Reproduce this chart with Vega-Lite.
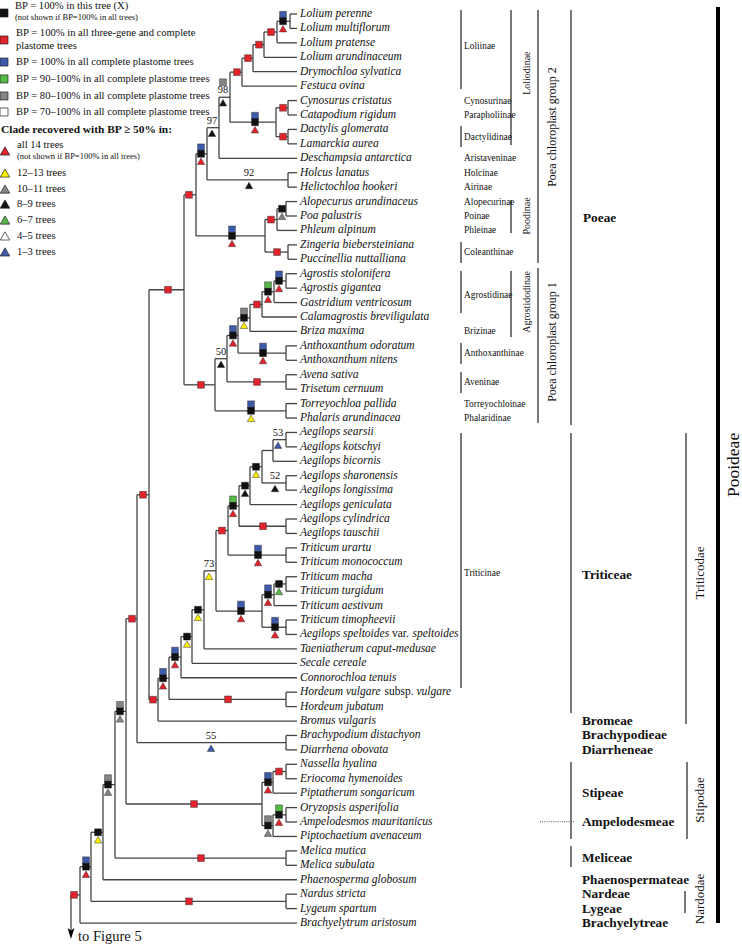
{
"$schema": "https://vega.github.io/schema/vega-lite/v6.json",
"width": 742, "height": 948, "padding": 0, "autosize": "none", "background": "white",
"config": {"view": {"stroke": null}, "text": {"font": "Liberation Serif"}},
"datasets": {
"hs": [
{"x":277,"x2":290,"y":1.5},{"x":264,"x2":277,"y":2.25},{"x":253,"x2":264,"y":3.125},{"x":242,"x2":253,"y":4.06},{"x":230,"x2":242,"y":5.03},{"x":276,"x2":288,"y":7.5},{"x":276,"x2":288,"y":9.5},{"x":230,"x2":276,"y":8.5},{"x":219,"x2":230,"y":6.77},{"x":207,"x2":219,"y":8.88},{"x":207,"x2":288,"y":12.5},{"x":196,"x2":207,"y":10.69},{"x":277,"x2":286,"y":14.5},{"x":265,"x2":277,"y":15.25},{"x":265,"x2":288,"y":17.5},{"x":196,"x2":265,"y":16.38},{"x":184,"x2":196,"y":13.53},{"x":274,"x2":286,"y":19.5},{"x":262,"x2":274,"y":20.25},{"x":250,"x2":262,"y":21.13},{"x":238,"x2":250,"y":22.06},{"x":238,"x2":286,"y":24.5},{"x":227,"x2":238,"y":23.28},{"x":227,"x2":286,"y":26.5},{"x":215,"x2":227,"y":24.89},{"x":215,"x2":286,"y":28.5},{"x":184,"x2":215,"y":26.7},{"x":149,"x2":184,"y":20.11},{"x":273,"x2":286,"y":30.5},{"x":262,"x2":273,"y":31.25},{"x":262,"x2":286,"y":33.5},{"x":250,"x2":262,"y":32.38},{"x":239,"x2":250,"y":33.69},{"x":239,"x2":286,"y":36.5},{"x":228,"x2":239,"y":35.09},{"x":228,"x2":286,"y":38.5},{"x":216,"x2":228,"y":36.8},{"x":274,"x2":286,"y":40.5},{"x":262,"x2":274,"y":41.25},{"x":262,"x2":286,"y":43.5},{"x":216,"x2":262,"y":42.38},{"x":204,"x2":216,"y":39.59},{"x":192,"x2":204,"y":42.29},{"x":181,"x2":192,"y":44.15},{"x":169,"x2":181,"y":45.57},{"x":169,"x2":286,"y":48.5},{"x":158,"x2":169,"y":47.04},{"x":149,"x2":158,"y":48.52},{"x":137,"x2":149,"y":34.32},{"x":137,"x2":286,"y":51.5},{"x":126,"x2":137,"y":42.91},{"x":273,"x2":286,"y":53.5},{"x":262,"x2":273,"y":54.25},{"x":273,"x2":286,"y":56.5},{"x":262,"x2":273,"y":57.25},{"x":126,"x2":262,"y":55.75},{"x":115,"x2":126,"y":49.33},{"x":115,"x2":286,"y":59.5},{"x":103,"x2":115,"y":54.41},{"x":91,"x2":103,"y":57.71},{"x":91,"x2":286,"y":62.5},{"x":80,"x2":91,"y":60.1},{"x":71,"x2":80,"y":62.05}
],
"vs": [
{"x":290,"y":1,"y2":2},{"x":277,"y":1.5,"y2":3},{"x":264,"y":2.25,"y2":4},{"x":253,"y":3.125,"y2":5},{"x":242,"y":4.06,"y2":6},{"x":288,"y":7,"y2":8},{"x":288,"y":9,"y2":10},{"x":276,"y":7.5,"y2":9.5},{"x":230,"y":5.03,"y2":8.5},{"x":219,"y":6.77,"y2":11},{"x":288,"y":12,"y2":13},{"x":207,"y":8.88,"y2":12.5},{"x":286,"y":14,"y2":15},{"x":277,"y":14.5,"y2":16},{"x":288,"y":17,"y2":18},{"x":265,"y":15.25,"y2":17.5},{"x":196,"y":10.69,"y2":16.38},{"x":286,"y":19,"y2":20},{"x":274,"y":19.5,"y2":21},{"x":262,"y":20.25,"y2":22},{"x":250,"y":21.13,"y2":23},{"x":286,"y":24,"y2":25},{"x":238,"y":22.06,"y2":24.5},{"x":286,"y":26,"y2":27},{"x":227,"y":23.28,"y2":26.5},{"x":286,"y":28,"y2":29},{"x":215,"y":24.89,"y2":28.5},{"x":184,"y":13.53,"y2":26.7},{"x":286,"y":30,"y2":31},{"x":273,"y":30.5,"y2":32},{"x":286,"y":33,"y2":34},{"x":262,"y":31.25,"y2":33.5},{"x":250,"y":32.38,"y2":35},{"x":286,"y":36,"y2":37},{"x":239,"y":33.69,"y2":36.5},{"x":286,"y":38,"y2":39},{"x":228,"y":35.09,"y2":38.5},{"x":286,"y":40,"y2":41},{"x":274,"y":40.5,"y2":42},{"x":286,"y":43,"y2":44},{"x":262,"y":41.25,"y2":43.5},{"x":216,"y":36.8,"y2":42.38},{"x":204,"y":39.59,"y2":45},{"x":192,"y":42.29,"y2":46},{"x":181,"y":44.15,"y2":47},{"x":286,"y":48,"y2":49},{"x":169,"y":45.57,"y2":48.5},{"x":158,"y":47.04,"y2":50},{"x":149,"y":20.11,"y2":48.52},{"x":286,"y":51,"y2":52},{"x":137,"y":34.32,"y2":51.5},{"x":286,"y":53,"y2":54},{"x":273,"y":53.5,"y2":55},{"x":286,"y":56,"y2":57},{"x":273,"y":56.5,"y2":58},{"x":262,"y":54.25,"y2":57.25},{"x":126,"y":42.91,"y2":55.75},{"x":286,"y":59,"y2":60},{"x":115,"y":49.33,"y2":59.5},{"x":103,"y":54.41,"y2":61},{"x":286,"y":62,"y2":63},{"x":91,"y":57.71,"y2":62.5},{"x":80,"y":60.1,"y2":64},{"x":71,"y":62.05,"y2":64.7}
],
"lv": [
{"y":1,"x":297,"px":290,"t":"Lolium perenne"},{"y":2,"x":297,"px":290,"t":"Lolium multiflorum"},{"y":3,"x":297,"px":277,"t":"Lolium pratense"},{"y":4,"x":297,"px":264,"t":"Lolium arundinaceum"},{"y":5,"x":297,"px":253,"t":"Drymochloa sylvatica"},{"y":6,"x":297,"px":242,"t":"Festuca ovina"},{"y":7,"x":297,"px":288,"t":"Cynosurus cristatus"},{"y":8,"x":297,"px":288,"t":"Catapodium rigidum"},{"y":9,"x":297,"px":288,"t":"Dactylis glomerata"},{"y":10,"x":297,"px":288,"t":"Lamarckia aurea"},{"y":11,"x":297,"px":219,"t":"Deschampsia antarctica"},{"y":12,"x":297,"px":288,"t":"Holcus lanatus"},{"y":13,"x":297,"px":288,"t":"Helictochloa hookeri"},{"y":14,"x":297,"px":286,"t":"Alopecurus arundinaceus"},{"y":15,"x":297,"px":286,"t":"Poa palustris"},{"y":16,"x":297,"px":277,"t":"Phleum alpinum"},{"y":17,"x":297,"px":288,"t":"Zingeria biebersteiniana"},{"y":18,"x":297,"px":288,"t":"Puccinellia nuttalliana"},{"y":19,"x":297,"px":286,"t":"Agrostis stolonifera"},{"y":20,"x":297,"px":286,"t":"Agrostis gigantea"},{"y":21,"x":297,"px":274,"t":"Gastridium ventricosum"},{"y":22,"x":297,"px":262,"t":"Calamagrostis breviligulata"},{"y":23,"x":297,"px":250,"t":"Briza maxima"},{"y":24,"x":297,"px":286,"t":"Anthoxanthum odoratum"},{"y":25,"x":297,"px":286,"t":"Anthoxanthum nitens"},{"y":26,"x":297,"px":286,"t":"Avena sativa"},{"y":27,"x":297,"px":286,"t":"Trisetum cernuum"},{"y":28,"x":297,"px":286,"t":"Torreyochloa pallida"},{"y":29,"x":297,"px":286,"t":"Phalaris arundinacea"},{"y":30,"x":297,"px":286,"t":"Aegilops searsii"},{"y":31,"x":297,"px":286,"t":"Aegilops kotschyi"},{"y":32,"x":297,"px":273,"t":"Aegilops bicornis"},{"y":33,"x":297,"px":286,"t":"Aegilops sharonensis"},{"y":34,"x":297,"px":286,"t":"Aegilops longissima"},{"y":35,"x":297,"px":250,"t":"Aegilops geniculata"},{"y":36,"x":297,"px":286,"t":"Aegilops cylindrica"},{"y":37,"x":297,"px":286,"t":"Aegilops tauschii"},{"y":38,"x":297,"px":286,"t":"Triticum urartu"},{"y":39,"x":297,"px":286,"t":"Triticum monococcum"},{"y":40,"x":297,"px":286,"t":"Triticum macha"},{"y":41,"x":297,"px":286,"t":"Triticum turgidum"},{"y":42,"x":297,"px":274,"t":"Triticum aestivum"},{"y":43,"x":297,"px":286,"t":"Triticum timopheevii"},{"y":44,"x":297,"px":286,"t":"Aegilops speltoides"},{"y":45,"x":297,"px":204,"t":"Taeniatherum caput-medusae"},{"y":46,"x":297,"px":192,"t":"Secale cereale"},{"y":47,"x":297,"px":181,"t":"Connorochloa tenuis"},{"y":48,"x":297,"px":286,"t":"Hordeum vulgare"},{"y":49,"x":297,"px":286,"t":"Hordeum jubatum"},{"y":50,"x":297,"px":158,"t":"Bromus vulgaris"},{"y":51,"x":297,"px":286,"t":"Brachypodium distachyon"},{"y":52,"x":297,"px":286,"t":"Diarrhena obovata"},{"y":53,"x":297,"px":286,"t":"Nassella hyalina"},{"y":54,"x":297,"px":286,"t":"Eriocoma hymenoides"},{"y":55,"x":297,"px":273,"t":"Piptatherum songaricum"},{"y":56,"x":297,"px":286,"t":"Oryzopsis asperifolia"},{"y":57,"x":297,"px":286,"t":"Ampelodesmos mauritanicus"},{"y":58,"x":297,"px":273,"t":"Piptochaetium avenaceum"},{"y":59,"x":297,"px":286,"t":"Melica mutica"},{"y":60,"x":297,"px":286,"t":"Melica subulata"},{"y":61,"x":297,"px":103,"t":"Phaenosperma globosum"},{"y":62,"x":297,"px":286,"t":"Nardus stricta"},{"y":63,"x":297,"px":286,"t":"Lygeum spartum"},{"y":64,"x":297,"px":80,"t":"Brachyelytrum aristosum"}
],
"lvx": [
{"x":384.5,"y":48,"t":"subsp.","f":"n"},{"x":416.5,"y":48,"t":"vulgare","f":"i"},{"x":392,"y":44,"t":"var.","f":"n"},{"x":412.5,"y":44,"t":"speltoides","f":"i"}
],
"mk": [
{"x":283,"y":1.5,"top":"blue","X":true,"tri":"red"},{"x":271,"y":2.25,"top":"red"},{"x":259,"y":3.125,"top":"red"},{"x":248,"y":4.06,"top":"red"},{"x":237,"y":5.03,"top":"red"},{"x":223,"y":6.77,"top":"gray","tri":"black","bs":"98"},{"x":283,"y":7.5,"top":"red"},{"x":283,"y":9.5,"top":"red"},{"x":255,"y":8.5,"top":"blue","X":true,"tri":"red"},{"x":212,"y":8.88,"tri":"black","bs":"97"},{"x":249,"y":12.5,"tri":"black","bs":"92"},{"x":201,"y":10.69,"top":"blue","X":true,"tri":"red"},{"x":282,"y":14.5,"X":true,"tri":"gray"},{"x":271,"y":15.25,"top":"red"},{"x":277,"y":17.5,"top":"red"},{"x":232,"y":16.38,"top":"blue","X":true,"tri":"red"},{"x":189,"y":13.53,"top":"red"},{"x":279,"y":19.5,"top":"blue","X":true,"tri":"red"},{"x":268,"y":20.25,"top":"green","X":true,"tri":"red"},{"x":257,"y":21.13,"top":"red"},{"x":244,"y":22.06,"top":"gray","X":true,"tri":"yellow"},{"x":263,"y":24.5,"top":"blue","X":true,"tri":"red"},{"x":233,"y":23.28,"top":"blue","X":true,"tri":"red"},{"x":257,"y":26.5,"top":"red"},{"x":221,"y":24.89,"tri":"black","bs":"50"},{"x":251,"y":28.5,"top":"blue","X":true,"tri":"yellow"},{"x":201,"y":26.7,"top":"red"},{"x":168,"y":20.11,"top":"red"},{"x":278,"y":30.5,"tri":"blue","bs":"53"},{"x":275,"y":33.5,"tri":"black","bs":"52"},{"x":256,"y":32.38,"X":true,"tri":"yellow"},{"x":245,"y":33.69,"X":true,"tri":"black"},{"x":263,"y":36.5,"top":"red"},{"x":233,"y":35.09,"top":"green","X":true,"tri":"red"},{"x":258,"y":38.5,"top":"blue","X":true,"tri":"red"},{"x":222,"y":36.8,"top":"red"},{"x":279,"y":40.5,"X":true,"tri":"green"},{"x":268,"y":41.25,"top":"blue","X":true,"tri":"red"},{"x":275,"y":43.5,"top":"blue","X":true,"tri":"red"},{"x":241,"y":42.38,"top":"blue","X":true,"tri":"red"},{"x":209,"y":39.59,"tri":"yellow","bs":"73"},{"x":198,"y":42.29,"X":true,"tri":"yellow"},{"x":187,"y":44.15,"X":true,"tri":"yellow"},{"x":175,"y":45.57,"top":"blue","X":true,"tri":"red"},{"x":228,"y":48.5,"top":"red"},{"x":163,"y":47.04,"top":"blue","X":true,"tri":"red"},{"x":153,"y":48.52,"top":"red"},{"x":143,"y":34.32,"top":"red"},{"x":211,"y":51.5,"tri":"blue","bs":"55"},{"x":132,"y":42.91,"top":"red"},{"x":279,"y":53.5,"top":"red"},{"x":268,"y":54.25,"top":"blue","X":true,"tri":"red"},{"x":279,"y":56.5,"top":"green","X":true,"tri":"red"},{"x":268,"y":57.25,"top":"gray","X":true,"tri":"gray"},{"x":194,"y":55.75,"top":"red"},{"x":120,"y":49.33,"top":"gray","X":true,"tri":"gray"},{"x":201,"y":59.5,"top":"red"},{"x":108,"y":54.41,"top":"gray","X":true,"tri":"gray"},{"x":98,"y":57.71,"X":true,"tri":"yellow"},{"x":86,"y":60.1,"top":"blue","X":true,"tri":"red"},{"x":189,"y":62.5,"top":"red"},{"x":74,"y":62.05,"top":"red"}
],
"lm": [
{"x":4,"y":0.93,"c":"black","s":"sq"},{"x":4,"y":2.8,"c":"red","s":"sq"},{"x":4,"y":4.33,"c":"blue","s":"sq"},{"x":4,"y":5.5,"c":"green","s":"sq"},{"x":4,"y":6.68,"c":"gray","s":"sq"},{"x":4,"y":7.79,"c":"white","s":"sq"},
{"x":5,"y":10.49,"c":"red","s":"tri"},{"x":5,"y":12.02,"c":"yellow","s":"tri"},{"x":5,"y":13.13,"c":"gray","s":"tri"},{"x":5,"y":14.17,"c":"black","s":"tri"},{"x":5,"y":15.28,"c":"green","s":"tri"},{"x":5,"y":16.38,"c":"white","s":"tri"},{"x":5,"y":17.49,"c":"blue","s":"tri"}
],
"txt": [
{"x":15,"y":0.45,"t":"BP = 100% in this tree (X)","c":"leg"},
{"x":15,"y":1.2,"t":"(not shown if BP=100% in all trees)","c":"legs"},
{"x":16,"y":2.32,"t":"BP = 100% in all three-gene and complete","c":"leg"},
{"x":16,"y":3.22,"t":"plastome trees","c":"leg"},
{"x":16,"y":4.33,"t":"BP = 100% in all complete plastome trees","c":"leg"},
{"x":16,"y":5.5,"t":"BP = 90–100% in all complete plastome trees","c":"leg"},
{"x":16,"y":6.68,"t":"BP = 80–100% in all complete plastome trees","c":"leg"},
{"x":16,"y":7.79,"t":"BP = 70–100% in all complete plastome trees","c":"leg"},
{"x":1,"y":9.04,"t":"Clade recovered with BP ≥ 50% in:","c":"legb"},
{"x":17,"y":10.08,"t":"all 14 trees","c":"leg"},
{"x":17,"y":10.84,"t":"(not shown if BP=100% in all trees)","c":"legs"},
{"x":17,"y":12.02,"t":"12–13 trees","c":"leg"},
{"x":17,"y":13.13,"t":"10–11 trees","c":"leg"},
{"x":17,"y":14.17,"t":"8–9 trees","c":"leg"},
{"x":17,"y":15.28,"t":"6–7 trees","c":"leg"},
{"x":17,"y":16.38,"t":"4–5 trees","c":"leg"},
{"x":17,"y":17.49,"t":"1–3 trees","c":"leg"},
{"x":464,"y":3.2,"t":"Loliinae","c":"sub"},
{"x":464,"y":7,"t":"Cynosurinae","c":"sub"},
{"x":464,"y":8,"t":"Parapholiinae","c":"sub"},
{"x":464,"y":9.5,"t":"Dactylidinae","c":"sub"},
{"x":464,"y":11,"t":"Aristaveninae","c":"sub"},
{"x":464,"y":12,"t":"Holcinae","c":"sub"},
{"x":464,"y":13,"t":"Airinae","c":"sub"},
{"x":464,"y":14,"t":"Alopecurinae","c":"sub"},
{"x":464,"y":15,"t":"Poinae","c":"sub"},
{"x":464,"y":16,"t":"Phleinae","c":"sub"},
{"x":464,"y":17.5,"t":"Coleanthinae","c":"sub"},
{"x":464,"y":20.47,"t":"Agrostidinae","c":"sub"},
{"x":464,"y":23,"t":"Brizinae","c":"sub"},
{"x":464,"y":24.5,"t":"Anthoxanthinae","c":"sub"},
{"x":464,"y":26.5,"t":"Aveninae","c":"sub"},
{"x":464,"y":28,"t":"Torreyochloinae","c":"sub"},
{"x":464,"y":29,"t":"Phalaridinae","c":"sub"},
{"x":464,"y":39.74,"t":"Triticinae","c":"sub"},
{"x":583,"y":15.14,"t":"Poeae","c":"trib"},
{"x":582,"y":39.88,"t":"Triticeae","c":"trib"},
{"x":582,"y":50,"t":"Bromeae","c":"trib"},
{"x":582,"y":51,"t":"Brachypodieae","c":"trib"},
{"x":582,"y":52,"t":"Diarrheneae","c":"trib"},
{"x":582,"y":54.99,"t":"Stipeae","c":"trib"},
{"x":582,"y":57,"t":"Ampelodesmeae","c":"trib"},
{"x":582,"y":59.5,"t":"Meliceae","c":"trib"},
{"x":582,"y":61,"t":"Phaenospermateae","c":"trib"},
{"x":582,"y":62,"t":"Nardeae","c":"trib"},
{"x":582,"y":63,"t":"Lygeae","c":"trib"},
{"x":582,"y":64,"t":"Brachyelytreae","c":"trib"},
{"x":527,"y":5.1,"t":"Loliodinae","c":"rotS"},
{"x":527,"y":15.0,"t":"Poodinae","c":"rotS"},
{"x":527,"y":20.96,"t":"Agrostidodinae","c":"rotS"},
{"x":552,"y":8.83,"t":"Poea chloroplast group 2","c":"rotM"},
{"x":552,"y":23.73,"t":"Poea chloroplast group 1","c":"rotM"},
{"x":700,"y":39.74,"t":"Triticodae","c":"rotL"},
{"x":700,"y":55.47,"t":"Stipodae","c":"rotL"},
{"x":700,"y":62.33,"t":"Nardodae","c":"rotL"},
{"x":734,"y":32.25,"t":"Pooideae","c":"rotXL"},
{"x":78,"y":65.0,"t":"to Figure 5","c":"fig"}
],
"br": [
{"x":461,"y":0.72,"y2":6.2},{"x":461,"y":8.76,"y2":10.22},{"x":461,"y":16.8,"y2":18.26},{"x":461,"y":18.81,"y2":21.72},{"x":461,"y":23.8,"y2":25.26},{"x":461,"y":25.81,"y2":27.26},{"x":461,"y":30.04,"y2":47.71},
{"x":511,"y":0.72,"y2":10.08},{"x":511,"y":13.89,"y2":16.18},{"x":511,"y":18.81,"y2":23.38},
{"x":538,"y":0.72,"y2":18.26},{"x":538,"y":18.6,"y2":29.34},
{"x":571,"y":0.72,"y2":29.48},{"x":571,"y":30.04,"y2":49.44},{"x":571,"y":52.84,"y2":58.17},{"x":571,"y":58.66,"y2":60.11},
{"x":686,"y":30.04,"y2":50.2},{"x":687,"y":52.84,"y2":58.17},{"x":685,"y":61.78,"y2":63.3}
],
"pooid": [{"x":718,"y":0.51,"y2":64.0}],
"dots": [{"x":540,"x2":575,"y":56.98}],
"arrow": [{"x":71,"y":64.72}]
},
"encoding": {
"x": {"field": "x", "type": "quantitative", "scale": {"domain": [0, 742], "nice": false, "zero": false}, "axis": null},
"y": {"field": "y", "type": "quantitative", "scale": {"domain": [0.03, 65.73], "nice": false, "zero": false, "reverse": true}, "axis": null}
},
"layer": [
{"data": {"name": "hs"}, "mark": {"type": "rule", "color": "#444", "strokeWidth": 1.3}, "encoding": {"x2": {"field": "x2"}}},
{"data": {"name": "vs"}, "mark": {"type": "rule", "color": "#444", "strokeWidth": 1.3}, "encoding": {"y2": {"field": "y2"}}},
{"data": {"name": "lv"}, "mark": {"type": "rule", "color": "#444", "strokeWidth": 1.3}, "encoding": {"x": {"field": "px", "type": "quantitative"}, "x2": {"field": "x"}}},
{"data": {"name": "br"}, "mark": {"type": "rule", "color": "#6a6a6a", "strokeWidth": 1.8}, "encoding": {"y2": {"field": "y2"}}},
{"data": {"name": "pooid"}, "mark": {"type": "rule", "color": "#000", "strokeWidth": 4}, "encoding": {"y2": {"field": "y2"}}},
{"data": {"name": "dots"}, "mark": {"type": "rule", "color": "#555", "strokeWidth": 1, "strokeDash": [1, 1.2]}, "encoding": {"x2": {"field": "x2"}}},
{"data": {"name": "arrow"}, "mark": {"type": "point", "shape": "M-0.62,-1L0,1L0.62,-1L0,-0.55Z", "filled": true, "size": 121, "color": "#000", "opacity": 1}, "encoding": {}},
{"data": {"name": "lv"}, "mark": {"type": "text", "font": "Liberation Serif", "align": "left", "baseline": "middle", "dx": 3, "fontSize": 11.5, "fontStyle": "italic", "color": "#111"}, "encoding": {"text": {"field": "t"}}},
{"data": {"name": "lvx"}, "transform": [{"filter": "datum.f == 'i'"}], "mark": {"type": "text", "font": "Liberation Serif", "align": "left", "baseline": "middle", "fontSize": 11.5, "fontStyle": "italic", "color": "#111"}, "encoding": {"text": {"field": "t"}}},
{"data": {"name": "lvx"}, "transform": [{"filter": "datum.f == 'n'"}], "mark": {"type": "text", "font": "Liberation Serif", "align": "left", "baseline": "middle", "fontSize": 11.5, "color": "#111"}, "encoding": {"text": {"field": "t"}}},
{"data": {"name": "mk"}, "transform": [{"filter": "datum.X && datum.top"}], "mark": {"type": "point", "shape": "square", "filled": true, "size": 46, "opacity": 1, "stroke": "#333", "strokeWidth": 0.5, "yOffset": -6.5}, "encoding": {"fill": {"field": "top", "type": "nominal", "scale": {"domain": ["red","blue","green","gray","black","yellow","white"], "range": ["#e3232b","#3e5ba9","#57b947","#858585","#111111","#fff200","#ffffff"]}, "legend": null}}},
{"data": {"name": "mk"}, "transform": [{"filter": "!datum.X && datum.top && !datum.bs"}], "mark": {"type": "point", "shape": "square", "filled": true, "size": 46, "opacity": 1, "stroke": "#333", "strokeWidth": 0.5}, "encoding": {"fill": {"field": "top", "type": "nominal", "legend": null}}},
{"data": {"name": "mk"}, "transform": [{"filter": "!datum.X && datum.top && datum.bs"}], "mark": {"type": "point", "shape": "square", "filled": true, "size": 46, "opacity": 1, "stroke": "#333", "strokeWidth": 0.5, "yOffset": -15}, "encoding": {"fill": {"field": "top", "type": "nominal", "legend": null}}},
{"data": {"name": "mk"}, "transform": [{"filter": "datum.X"}], "mark": {"type": "point", "shape": "square", "filled": true, "size": 46, "opacity": 1, "fill": "#111", "stroke": "#111", "strokeWidth": 0.5}, "encoding": {}},
{"data": {"name": "mk"}, "transform": [{"filter": "datum.X && datum.tri"}], "mark": {"type": "point", "shape": "triangle-up", "filled": true, "size": 56, "opacity": 1, "stroke": "#333", "strokeWidth": 0.5, "yOffset": 7.5}, "encoding": {"fill": {"field": "tri", "type": "nominal", "legend": null}}},
{"data": {"name": "mk"}, "transform": [{"filter": "!datum.X && datum.tri"}], "mark": {"type": "point", "shape": "triangle-up", "filled": true, "size": 56, "opacity": 1, "stroke": "#333", "strokeWidth": 0.5, "yOffset": 5.5}, "encoding": {"fill": {"field": "tri", "type": "nominal", "legend": null}}},
{"data": {"name": "mk"}, "transform": [{"filter": "datum.bs"}], "mark": {"type": "text", "font": "Liberation Serif", "align": "center", "baseline": "middle", "dy": -7, "fontSize": 10.5, "color": "#111"}, "encoding": {"text": {"field": "bs"}}},
{"data": {"name": "lm"}, "transform": [{"filter": "datum.s == 'sq'"}], "mark": {"type": "point", "shape": "square", "filled": true, "size": 64, "opacity": 1, "stroke": "#222", "strokeWidth": 0.7}, "encoding": {"fill": {"field": "c", "type": "nominal", "legend": null}}},
{"data": {"name": "lm"}, "transform": [{"filter": "datum.s == 'tri'"}], "mark": {"type": "point", "shape": "triangle-up", "filled": true, "size": 90, "opacity": 1, "stroke": "#222", "strokeWidth": 0.7}, "encoding": {"fill": {"field": "c", "type": "nominal", "legend": null}}},
{"data": {"name": "txt"}, "transform": [{"filter": "datum.c == 'leg'"}], "mark": {"type": "text", "font": "Liberation Serif", "align": "left", "baseline": "middle", "fontSize": 10.6, "color": "#111"}, "encoding": {"text": {"field": "t"}}},
{"data": {"name": "txt"}, "transform": [{"filter": "datum.c == 'legs'"}], "mark": {"type": "text", "font": "Liberation Serif", "align": "left", "baseline": "middle", "fontSize": 8.5, "color": "#111"}, "encoding": {"text": {"field": "t"}}},
{"data": {"name": "txt"}, "transform": [{"filter": "datum.c == 'legb'"}], "mark": {"type": "text", "font": "Liberation Serif", "align": "left", "baseline": "middle", "fontSize": 11.4, "fontWeight": "bold", "color": "#111"}, "encoding": {"text": {"field": "t"}}},
{"data": {"name": "txt"}, "transform": [{"filter": "datum.c == 'sub'"}], "mark": {"type": "text", "font": "Liberation Serif", "align": "left", "baseline": "middle", "fontSize": 9.4, "color": "#111"}, "encoding": {"text": {"field": "t"}}},
{"data": {"name": "txt"}, "transform": [{"filter": "datum.c == 'trib'"}], "mark": {"type": "text", "font": "Liberation Serif", "align": "left", "baseline": "middle", "fontSize": 13.3, "fontWeight": "bold", "color": "#111"}, "encoding": {"text": {"field": "t"}}},
{"data": {"name": "txt"}, "transform": [{"filter": "datum.c == 'rotS'"}], "mark": {"type": "text", "font": "Liberation Serif", "align": "center", "baseline": "middle", "angle": 270, "fontSize": 10, "color": "#111"}, "encoding": {"text": {"field": "t"}}},
{"data": {"name": "txt"}, "transform": [{"filter": "datum.c == 'rotM'"}], "mark": {"type": "text", "font": "Liberation Serif", "align": "center", "baseline": "middle", "angle": 270, "fontSize": 12, "color": "#111"}, "encoding": {"text": {"field": "t"}}},
{"data": {"name": "txt"}, "transform": [{"filter": "datum.c == 'rotL'"}], "mark": {"type": "text", "font": "Liberation Serif", "align": "center", "baseline": "middle", "angle": 270, "fontSize": 13, "color": "#111"}, "encoding": {"text": {"field": "t"}}},
{"data": {"name": "txt"}, "transform": [{"filter": "datum.c == 'rotXL'"}], "mark": {"type": "text", "font": "Liberation Serif", "align": "center", "baseline": "middle", "angle": 270, "fontSize": 17.5, "color": "#111"}, "encoding": {"text": {"field": "t"}}},
{"data": {"name": "txt"}, "transform": [{"filter": "datum.c == 'fig'"}], "mark": {"type": "text", "font": "Liberation Serif", "align": "left", "baseline": "middle", "fontSize": 14.5, "color": "#111"}, "encoding": {"text": {"field": "t"}}}
]
}
